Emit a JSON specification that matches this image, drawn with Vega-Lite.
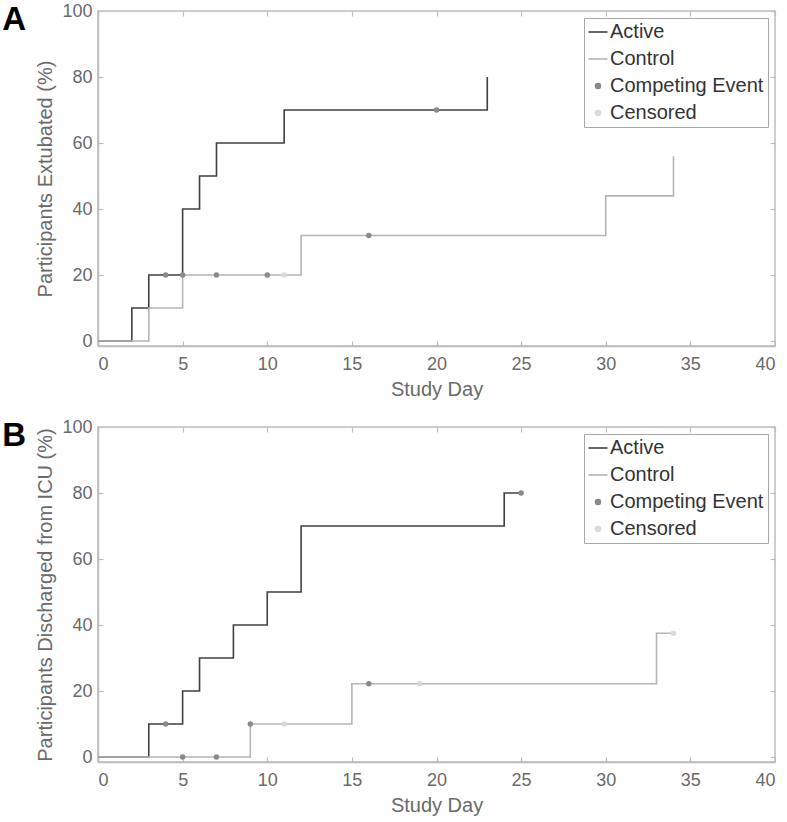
{
  "$schema": "https://vega.github.io/schema/vega-lite/v6.json",
  "padding": {"left": 1, "top": 1, "right": 5, "bottom": 5},
  "background": "white",
  "bounds": "flush",
  "spacing": 81,
  "resolve": {"scale": {"color": "independent"}},
  "config": {
    "font": "Liberation Sans",
    "view": {"stroke": "#bdbdbd", "strokeWidth": 1.5},
    "axis": {
      "domainColor": "#bdbdbd", "domainWidth": 1.5, "tickColor": "#bdbdbd", "tickWidth": 1.2,
      "tickSize": -5, "labelColor": "#6a6a6a", "titleColor": "#6a6a6a",
      "labelFont": "Liberation Sans", "titleFont": "Liberation Sans",
      "labelFontSize": 18, "titleFontSize": 20, "titleFontWeight": "normal", "grid": false
    },
    "title": {"font": "Liberation Sans"}
  },
  "datasets": {
    "linesA": [
      {"day": 0, "pct": 0, "series": "Active"}, {"day": 2, "pct": 10, "series": "Active"}, {"day": 3, "pct": 20, "series": "Active"},
      {"day": 5, "pct": 40, "series": "Active"}, {"day": 6, "pct": 50, "series": "Active"}, {"day": 7, "pct": 60, "series": "Active"},
      {"day": 11, "pct": 70, "series": "Active"}, {"day": 23, "pct": 80, "series": "Active"},
      {"day": 0, "pct": 0, "series": "Control"}, {"day": 3, "pct": 10, "series": "Control"}, {"day": 5, "pct": 20, "series": "Control"},
      {"day": 12, "pct": 32, "series": "Control"}, {"day": 30, "pct": 44, "series": "Control"}, {"day": 34, "pct": 56, "series": "Control"}
    ],
    "eventsA": [
      {"day": 4, "pct": 20, "series": "Competing Event"}, {"day": 5, "pct": 20, "series": "Competing Event"},
      {"day": 7, "pct": 20, "series": "Competing Event"}, {"day": 10, "pct": 20, "series": "Competing Event"},
      {"day": 11, "pct": 20, "series": "Censored"}, {"day": 16, "pct": 32, "series": "Competing Event"},
      {"day": 20, "pct": 70, "series": "Competing Event"}
    ],
    "linesB": [
      {"day": 0, "pct": 0, "series": "Active"}, {"day": 3, "pct": 10, "series": "Active"}, {"day": 5, "pct": 20, "series": "Active"},
      {"day": 6, "pct": 30, "series": "Active"}, {"day": 8, "pct": 40, "series": "Active"}, {"day": 10, "pct": 50, "series": "Active"},
      {"day": 12, "pct": 70, "series": "Active"}, {"day": 24, "pct": 80, "series": "Active"}, {"day": 25, "pct": 80, "series": "Active"},
      {"day": 0, "pct": 0, "series": "Control"}, {"day": 9, "pct": 10, "series": "Control"}, {"day": 15, "pct": 22.2, "series": "Control"},
      {"day": 33, "pct": 37.5, "series": "Control"}, {"day": 34, "pct": 37.5, "series": "Control"}
    ],
    "eventsB": [
      {"day": 4, "pct": 10, "series": "Competing Event"}, {"day": 5, "pct": 0, "series": "Competing Event"},
      {"day": 7, "pct": 0, "series": "Competing Event"}, {"day": 9, "pct": 10, "series": "Competing Event"},
      {"day": 11, "pct": 10, "series": "Censored"}, {"day": 16, "pct": 22.2, "series": "Competing Event"},
      {"day": 19, "pct": 22.2, "series": "Censored"}, {"day": 25, "pct": 80, "series": "Competing Event"},
      {"day": 34, "pct": 37.5, "series": "Censored"}
    ]
  },
  "vconcat": [
    {
      "title": {"text": "A", "orient": "left", "anchor": "end", "frame": "group", "angle": 0, "align": "right", "baseline": "top", "fontSize": 33, "fontWeight": "bold", "color": "black", "offset": -14, "dy": -7},
      "width": 677, "height": 335,
      "resolve": {"axis": {"x": "independent", "y": "independent"}},
      "layer": [
        {
          "data": {"name": "linesA"},
          "transform": [{"filter": "datum.series == 'Active'"}],
          "mark": {"type": "line", "interpolate": "step-after", "strokeWidth": 1.6},
          "encoding": {
            "x": {"field": "day", "type": "quantitative", "scale": {"domain": [0, 40], "nice": false}, "axis": null},
            "y": {"field": "pct", "type": "quantitative", "scale": {"domain": [-1.5, 100], "nice": false}, "axis": null},
            "color": {"field": "series", "type": "nominal", "scale": {"domain": ["Active", "Control", "Competing Event", "Censored"], "range": ["#404040", "#b5b5b5", "#8a8a8a", "#dadada"]},
              "legend": {"title": null, "orient": "top-right", "offset": 7, "symbolSize": 361, "symbolType": "stroke", "labelFontSize": 20, "labelColor": "#333333", "labelFont": "Liberation Sans", "labelOffset": 2, "rowPadding": 7, "padding": 4, "strokeColor": "#a8a8a8", "fillColor": "white",
                "encode": {"symbols": {"update": {
                  "shape": {"signal": "datum.value=='Active'||datum.value=='Control' ? 'stroke' : 'circle'"},
                  "size": {"signal": "datum.value=='Active'||datum.value=='Control' ? 361 : 25"},
                  "stroke": {"signal": "datum.value=='Active' ? '#404040' : datum.value=='Control' ? '#b5b5b5' : 'transparent'"},
                  "fill": {"signal": "datum.value=='Competing Event' ? '#8a8a8a' : datum.value=='Censored' ? '#dadada' : 'transparent'"},
                  "strokeWidth": {"value": 1.6},
                  "opacity": {"value": 1}
                }}}}}
          }
        },
        {
          "data": {"name": "linesA"},
          "transform": [{"filter": "datum.series == 'Control'"}],
          "mark": {"type": "line", "interpolate": "step-after", "strokeWidth": 1.6},
          "encoding": {
            "x": {"field": "day", "type": "quantitative", "scale": {"domain": [0, 40], "nice": false}, "axis": {"values": [0, 5, 10, 15, 20, 25, 30, 35, 40], "title": "Study Day", "labelPadding": 14, "titlePadding": 6}},
            "y": {"field": "pct", "type": "quantitative", "scale": {"domain": [-1.5, 100], "nice": false}, "axis": {"values": [0, 20, 40, 60, 80, 100], "title": "Participants Extubated (%)", "labelPadding": 11, "titlePadding": 6}},
            "color": {"field": "series", "type": "nominal", "scale": {"domain": ["Active", "Control", "Competing Event", "Censored"], "range": ["#404040", "#b5b5b5", "#8a8a8a", "#dadada"]},
              "legend": {"title": null, "orient": "top-right", "offset": 7, "symbolSize": 361, "symbolType": "stroke", "labelFontSize": 20, "labelColor": "#333333", "labelFont": "Liberation Sans", "labelOffset": 2, "rowPadding": 7, "padding": 4, "strokeColor": "#a8a8a8", "fillColor": "white",
                "encode": {"symbols": {"update": {
                  "shape": {"signal": "datum.value=='Active'||datum.value=='Control' ? 'stroke' : 'circle'"},
                  "size": {"signal": "datum.value=='Active'||datum.value=='Control' ? 361 : 25"},
                  "stroke": {"signal": "datum.value=='Active' ? '#404040' : datum.value=='Control' ? '#b5b5b5' : 'transparent'"},
                  "fill": {"signal": "datum.value=='Competing Event' ? '#8a8a8a' : datum.value=='Censored' ? '#dadada' : 'transparent'"},
                  "strokeWidth": {"value": 1.6},
                  "opacity": {"value": 1}
                }}}}}
          }
        },
        {
          "data": {"name": "eventsA"},
          "mark": {"type": "point", "filled": true, "size": 30, "opacity": 1},
          "encoding": {
            "x": {"field": "day", "type": "quantitative", "scale": {"domain": [0, 40], "nice": false}, "axis": {"orient": "top", "values": [0, 5, 10, 15, 20, 25, 30, 35, 40], "labels": false, "title": null, "domain": false}},
            "y": {"field": "pct", "type": "quantitative", "scale": {"domain": [-1.5, 100], "nice": false}, "axis": {"orient": "right", "values": [0, 20, 40, 60, 80, 100], "labels": false, "title": null, "domain": false}},
            "color": {"field": "series", "type": "nominal", "scale": {"domain": ["Active", "Control", "Competing Event", "Censored"], "range": ["#404040", "#b5b5b5", "#8a8a8a", "#dadada"]},
              "legend": {"title": null, "orient": "top-right", "offset": 7, "symbolSize": 361, "symbolType": "stroke", "labelFontSize": 20, "labelColor": "#333333", "labelFont": "Liberation Sans", "labelOffset": 2, "rowPadding": 7, "padding": 4, "strokeColor": "#a8a8a8", "fillColor": "white",
                "encode": {"symbols": {"update": {
                  "shape": {"signal": "datum.value=='Active'||datum.value=='Control' ? 'stroke' : 'circle'"},
                  "size": {"signal": "datum.value=='Active'||datum.value=='Control' ? 361 : 25"},
                  "stroke": {"signal": "datum.value=='Active' ? '#404040' : datum.value=='Control' ? '#b5b5b5' : 'transparent'"},
                  "fill": {"signal": "datum.value=='Competing Event' ? '#8a8a8a' : datum.value=='Censored' ? '#dadada' : 'transparent'"},
                  "strokeWidth": {"value": 1.6},
                  "opacity": {"value": 1}
                }}}}}
          }
        }
      ]
    },
    {
      "title": {"text": "B", "orient": "left", "anchor": "end", "frame": "group", "angle": 0, "align": "right", "baseline": "top", "fontSize": 33, "fontWeight": "bold", "color": "black", "offset": -14, "dy": -7},
      "width": 677, "height": 335,
      "resolve": {"axis": {"x": "independent", "y": "independent"}},
      "layer": [
        {
          "data": {"name": "linesB"},
          "transform": [{"filter": "datum.series == 'Active'"}],
          "mark": {"type": "line", "interpolate": "step-after", "strokeWidth": 1.6},
          "encoding": {
            "x": {"field": "day", "type": "quantitative", "scale": {"domain": [0, 40], "nice": false}, "axis": null},
            "y": {"field": "pct", "type": "quantitative", "scale": {"domain": [-1.5, 100], "nice": false}, "axis": null},
            "color": {"field": "series", "type": "nominal", "scale": {"domain": ["Active", "Control", "Competing Event", "Censored"], "range": ["#404040", "#b5b5b5", "#8a8a8a", "#dadada"]},
              "legend": {"title": null, "orient": "top-right", "offset": 7, "symbolSize": 361, "symbolType": "stroke", "labelFontSize": 20, "labelColor": "#333333", "labelFont": "Liberation Sans", "labelOffset": 2, "rowPadding": 7, "padding": 4, "strokeColor": "#a8a8a8", "fillColor": "white",
                "encode": {"symbols": {"update": {
                  "shape": {"signal": "datum.value=='Active'||datum.value=='Control' ? 'stroke' : 'circle'"},
                  "size": {"signal": "datum.value=='Active'||datum.value=='Control' ? 361 : 25"},
                  "stroke": {"signal": "datum.value=='Active' ? '#404040' : datum.value=='Control' ? '#b5b5b5' : 'transparent'"},
                  "fill": {"signal": "datum.value=='Competing Event' ? '#8a8a8a' : datum.value=='Censored' ? '#dadada' : 'transparent'"},
                  "strokeWidth": {"value": 1.6},
                  "opacity": {"value": 1}
                }}}}}
          }
        },
        {
          "data": {"name": "linesB"},
          "transform": [{"filter": "datum.series == 'Control'"}],
          "mark": {"type": "line", "interpolate": "step-after", "strokeWidth": 1.6},
          "encoding": {
            "x": {"field": "day", "type": "quantitative", "scale": {"domain": [0, 40], "nice": false}, "axis": {"values": [0, 5, 10, 15, 20, 25, 30, 35, 40], "title": "Study Day", "labelPadding": 14, "titlePadding": 6}},
            "y": {"field": "pct", "type": "quantitative", "scale": {"domain": [-1.5, 100], "nice": false}, "axis": {"values": [0, 20, 40, 60, 80, 100], "title": "Participants Discharged from ICU (%)", "labelPadding": 11, "titlePadding": 6}},
            "color": {"field": "series", "type": "nominal", "scale": {"domain": ["Active", "Control", "Competing Event", "Censored"], "range": ["#404040", "#b5b5b5", "#8a8a8a", "#dadada"]},
              "legend": {"title": null, "orient": "top-right", "offset": 7, "symbolSize": 361, "symbolType": "stroke", "labelFontSize": 20, "labelColor": "#333333", "labelFont": "Liberation Sans", "labelOffset": 2, "rowPadding": 7, "padding": 4, "strokeColor": "#a8a8a8", "fillColor": "white",
                "encode": {"symbols": {"update": {
                  "shape": {"signal": "datum.value=='Active'||datum.value=='Control' ? 'stroke' : 'circle'"},
                  "size": {"signal": "datum.value=='Active'||datum.value=='Control' ? 361 : 25"},
                  "stroke": {"signal": "datum.value=='Active' ? '#404040' : datum.value=='Control' ? '#b5b5b5' : 'transparent'"},
                  "fill": {"signal": "datum.value=='Competing Event' ? '#8a8a8a' : datum.value=='Censored' ? '#dadada' : 'transparent'"},
                  "strokeWidth": {"value": 1.6},
                  "opacity": {"value": 1}
                }}}}}
          }
        },
        {
          "data": {"name": "eventsB"},
          "mark": {"type": "point", "filled": true, "size": 30, "opacity": 1},
          "encoding": {
            "x": {"field": "day", "type": "quantitative", "scale": {"domain": [0, 40], "nice": false}, "axis": {"orient": "top", "values": [0, 5, 10, 15, 20, 25, 30, 35, 40], "labels": false, "title": null, "domain": false}},
            "y": {"field": "pct", "type": "quantitative", "scale": {"domain": [-1.5, 100], "nice": false}, "axis": {"orient": "right", "values": [0, 20, 40, 60, 80, 100], "labels": false, "title": null, "domain": false}},
            "color": {"field": "series", "type": "nominal", "scale": {"domain": ["Active", "Control", "Competing Event", "Censored"], "range": ["#404040", "#b5b5b5", "#8a8a8a", "#dadada"]},
              "legend": {"title": null, "orient": "top-right", "offset": 7, "symbolSize": 361, "symbolType": "stroke", "labelFontSize": 20, "labelColor": "#333333", "labelFont": "Liberation Sans", "labelOffset": 2, "rowPadding": 7, "padding": 4, "strokeColor": "#a8a8a8", "fillColor": "white",
                "encode": {"symbols": {"update": {
                  "shape": {"signal": "datum.value=='Active'||datum.value=='Control' ? 'stroke' : 'circle'"},
                  "size": {"signal": "datum.value=='Active'||datum.value=='Control' ? 361 : 25"},
                  "stroke": {"signal": "datum.value=='Active' ? '#404040' : datum.value=='Control' ? '#b5b5b5' : 'transparent'"},
                  "fill": {"signal": "datum.value=='Competing Event' ? '#8a8a8a' : datum.value=='Censored' ? '#dadada' : 'transparent'"},
                  "strokeWidth": {"value": 1.6},
                  "opacity": {"value": 1}
                }}}}}
          }
        }
      ]
    }
  ]
}
